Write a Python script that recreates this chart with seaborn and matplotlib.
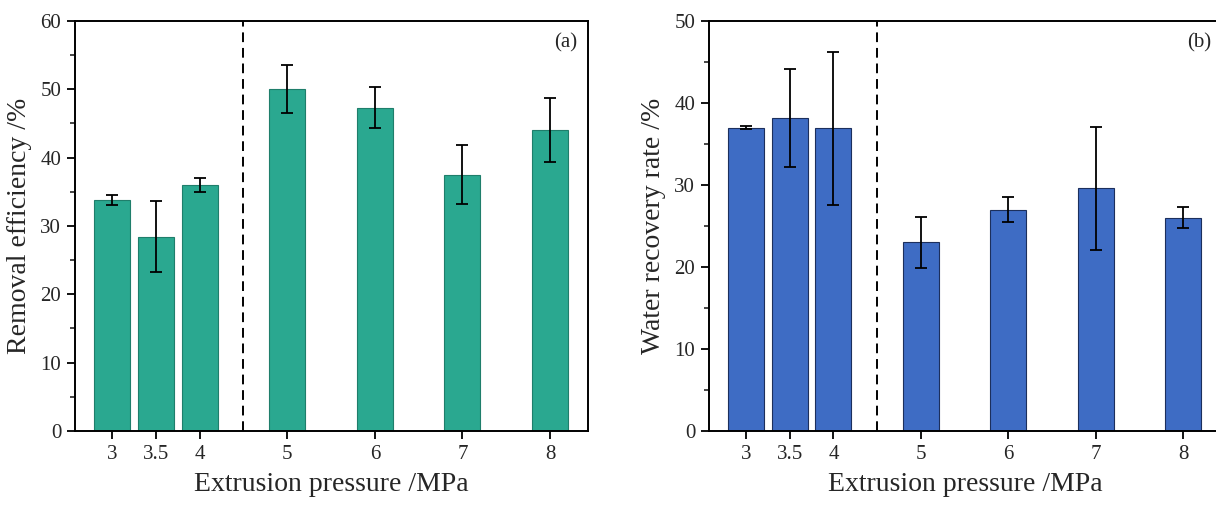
import numpy as np
import pandas as pd
import matplotlib
matplotlib.use('Agg')
import matplotlib.pyplot as plt
import seaborn as sns
from matplotlib.ticker import MultipleLocator

# podaci ocitani sa slike
pressure = [3, 3.5, 4, 5, 6, 7, 8]
tick_labels = ['3', '3.5', '4', '5', '6', '7', '8']
removal = [33.8, 28.4, 36.0, 50.0, 47.3, 37.5, 44.1]
removal_err = [0.7, 5.2, 1.0, 3.5, 3.0, 4.3, 4.7]
recovery = [37.0, 38.2, 36.9, 23.0, 27.0, 29.6, 26.0]
recovery_err = [0.2, 6.0, 9.3, 3.1, 1.5, 7.5, 1.3]

sns.set_style('ticks')
plt.rcParams['font.family'] = ['Liberation Serif', 'DejaVu Serif']
plt.rcParams['mathtext.fontset'] = 'stix'

fig = plt.figure(figsize=(12.16, 5.07), dpi=100)
ax1 = fig.add_axes([0.0617, 0.1499, 0.4219, 0.8087])
ax2 = fig.add_axes([0.5831, 0.1499, 0.4211, 0.8087])

panels = [
    (ax1, removal, removal_err, '#2aa890', '#1f7e6b', 'Removal efficiency /%', 60, '(a)'),
    (ax2, recovery, recovery_err, '#3e6cc4', '#1c2f5c', 'Water recovery rate /%', 50, '(b)'),
]

for ax, vals, errs, boja, ivica, ylab, ymax, slovo in panels:
    df = pd.DataFrame({'p': pressure, 'v': vals})
    sns.barplot(data=df, x='p', y='v', native_scale=True, width=0.82,
                color=boja, saturation=1, edgecolor=ivica, linewidth=0.8,
                errorbar=None, ax=ax)
    ax.errorbar(pressure, vals, yerr=errs, fmt='none', ecolor='black',
                elinewidth=1.3, capsize=4, capthick=1.3)
    ax.axvline(4.5, color='black', linestyle=(0, (5, 3)), linewidth=1.4)

    ax.set_xlim(2.578, 8.434)
    ax.set_ylim(0, ymax)
    ax.set_xticks(pressure)
    ax.set_xticklabels(tick_labels)
    ax.yaxis.set_major_locator(MultipleLocator(10))
    ax.yaxis.set_minor_locator(MultipleLocator(5))
    ax.tick_params(axis='both', which='major', direction='out', length=6,
                   width=1.3, labelsize=15, color='black', pad=4)
    ax.tick_params(axis='y', which='minor', direction='out', length=3.5, width=1.2)
    for s in ax.spines.values():
        s.set_linewidth(1.4)
        s.set_color('black')

    ax.set_xlabel('Extrusion pressure /MPa', fontsize=20, labelpad=6)
    ax.set_ylabel(ylab, fontsize=20, labelpad=6)
    ax.text(0.957, 0.946, slovo, transform=ax.transAxes, ha='center',
            va='center', fontsize=15)

fig.savefig('out.png', dpi=100)
